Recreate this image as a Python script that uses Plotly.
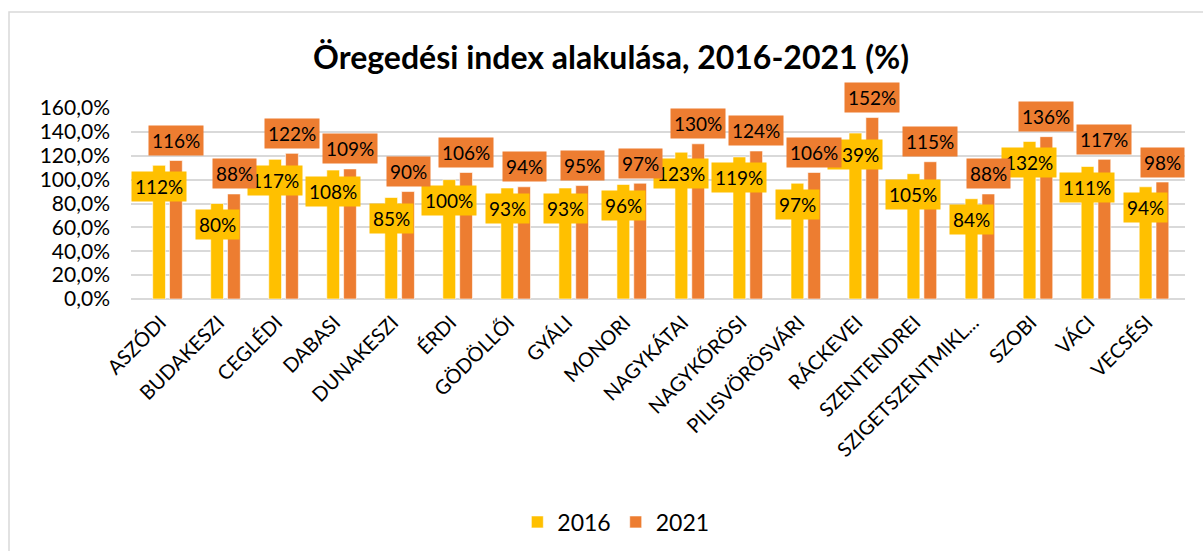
import plotly.graph_objects as go

categories = [
    "ASZÓDI", "BUDAKESZI", "CEGLÉDI", "DABASI", "DUNAKESZI", "ÉRDI",
    "GÖDÖLLŐI", "GYÁLI", "MONORI", "NAGYKÁTAI", "NAGYKŐRÖSI",
    "PILISVÖRÖSVÁRI", "RÁCKEVEI", "SZENTENDREI", "SZIGETSZENTMIKL...",
    "SZOBI", "VÁCI", "VECSÉSI"
]
values_2016 = [1.12, 0.80, 1.17, 1.08, 0.85, 1.00, 0.93, 0.93, 0.96,
               1.23, 1.19, 0.97, 1.39, 1.05, 0.84, 1.32, 1.11, 0.94]
values_2021 = [1.16, 0.88, 1.22, 1.09, 0.90, 1.06, 0.94, 0.95, 0.97,
               1.30, 1.24, 1.06, 1.52, 1.15, 0.88, 1.36, 1.17, 0.98]
y_ticks = [0, 0.2, 0.4, 0.6, 0.8, 1.0, 1.2, 1.4, 1.6]

YELLOW = "#FFC000"
ORANGE = "#ED7D31"
FONT = "Lato"

W, H = 1203, 551
ML, MR, MT, MB = 131, 18, 108, 252

fig = go.Figure()

fig.add_trace(go.Bar(
    x=categories, y=values_2016, name="2016",
    marker=dict(color=YELLOW, line=dict(color="rgba(255,255,255,0.6)", width=1))
))
fig.add_trace(go.Bar(
    x=categories, y=values_2021, name="2021",
    marker=dict(color=ORANGE, line=dict(color="rgba(255,255,255,0.6)", width=1))
))

# data labels with coloured boxes (2016 first, 2021 drawn on top)
for i, v in enumerate(values_2016):
    fig.add_annotation(
        x=i, y=v, xref="x", yref="y",
        text=f"{round(v * 100)}%",
        showarrow=False, xshift=-8.5, yshift=-21,
        bgcolor=YELLOW, borderpad=3,
        font=dict(family=FONT, size=19, color="black")
    )
for i, v in enumerate(values_2021):
    fig.add_annotation(
        x=i, y=v, xref="x", yref="y",
        text=f"{round(v * 100)}%",
        showarrow=False, xshift=8.5, yshift=20,
        bgcolor=ORANGE, borderpad=3,
        font=dict(family=FONT, size=19, color="black")
    )

# outer chart frame
pw = W - ML - MR
ph = H - MT - MB
fig.add_shape(
    type="rect", xref="paper", yref="paper",
    x0=(9 - ML) / pw, x1=(W + 10 - ML) / pw,
    y0=(H - MB - (H + 10)) / ph, y1=(H - MB - 12) / ph,
    line=dict(color="#d9d9d9", width=1.5), layer="below"
)

fig.update_layout(
    width=W, height=H,
    margin=dict(l=ML, r=MR, t=MT, b=MB, autoexpand=False),
    paper_bgcolor="white", plot_bgcolor="white",
    separators=",.",
    title=dict(
        text="<b>Öregedési index alakulása, 2016-2021 (%)</b>",
        x=0.508, xanchor="center", y=0.895, yanchor="middle",
        font=dict(family=FONT, size=32, color="black")
    ),
    barmode="group", bargap=0.42, bargroupgap=0.24,
    legend=dict(
        orientation="h", x=0.46, xanchor="center", y=-1.1675, yanchor="middle",
        font=dict(family=FONT, size=23, color="black"),
        itemwidth=30
    ),
    font=dict(family=FONT, color="black"),
)

fig.update_xaxes(
    tickangle=-45, tickfont=dict(family=FONT, size=20, color="black"),
    showline=False, ticks="", showgrid=False,
    ticklabelstandoff=7, ticklabelshift=-7
)
fig.update_yaxes(
    range=[0, 1.6], tickvals=y_ticks, tickformat=".1%",
    tickfont=dict(family=FONT, size=21, color="black"),
    showgrid=True, gridcolor="#d9d9d9", gridwidth=1.5,
    zeroline=True, zerolinecolor="#d9d9d9", zerolinewidth=1.5,
    showline=False, ticks="", ticklabelstandoff=20
)

fig.write_html(
    "out.html",
    config={"displayModeBar": False},
    post_script="document.body.style.margin='0';document.body.style.overflow='hidden';"
)
